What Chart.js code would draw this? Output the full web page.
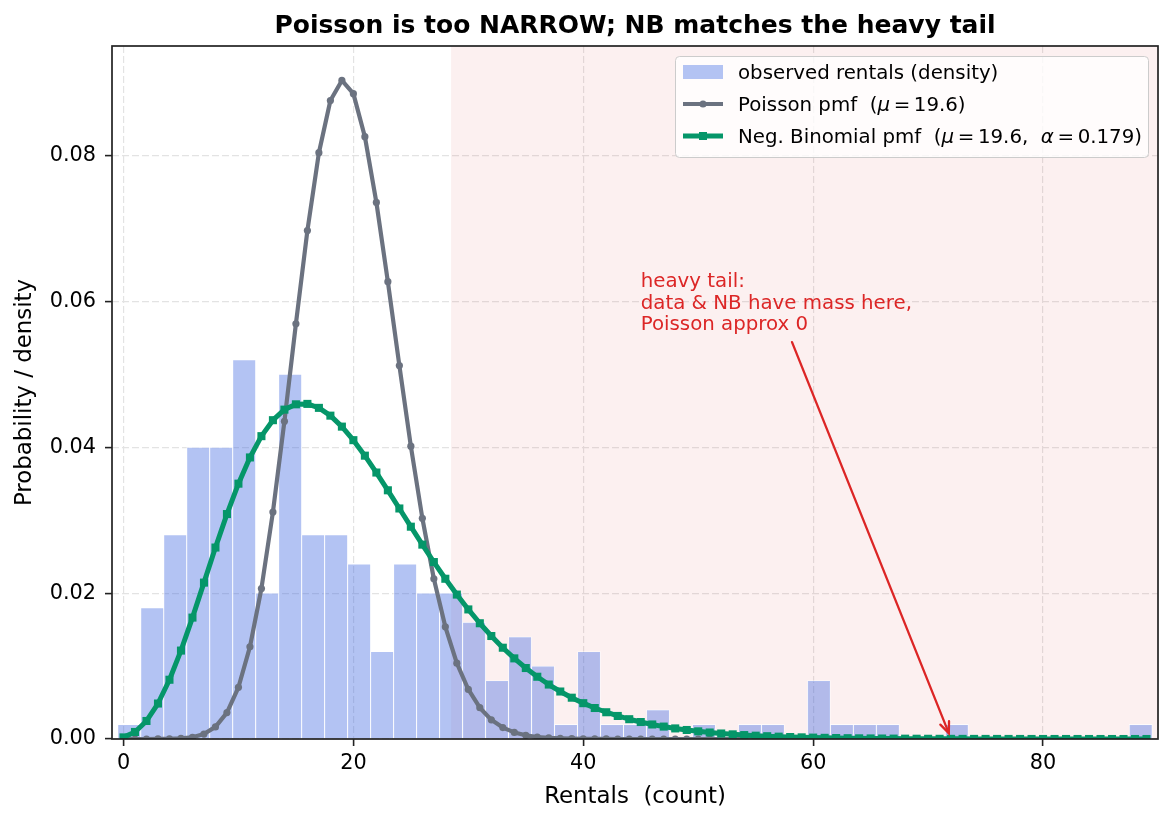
<!DOCTYPE html>
<html><head><meta charset="utf-8">
<script src="https://cdn.jsdelivr.net/npm/chart.js@4.4.1/dist/chart.umd.min.js"></script>
<style>html,body{margin:0;padding:0;background:#fff}#c{display:block}</style>
</head><body>
<canvas id="c" width="1173" height="823"></canvas>
<script>
// ---------------- data ----------------
const binCenters = [0.5,2.5,4.5,6.5,8.5,10.5,12.5,14.5,16.5,18.5,20.5,22.5,24.5,26.5,28.5,30.5,32.5,34.5,36.5,38.5,
  40.5,42.5,44.5,46.5,48.5,50.5,52.5,54.5,56.5,58.5,60.5,62.5,64.5,66.5,68.5,70.5,72.5,74.5,76.5,78.5,80.5,82.5,84.5,86.5,88.5];
const observedDensity = [0.002,0.018,0.028,0.040,0.040,0.052,0.020,0.050,0.028,0.028,0.024,0.012,0.024,0.020,0.020,0.016,0.008,0.014,0.010,0.002,
  0.012,0.002,0.002,0.004,0,0.002,0,0.002,0.002,0,0.008,0.002,0.002,0.002,0,0,0.002,0,0,0,0,0,0,0,0.002];
const counts = [0,1,2,3,4,5,6,7,8,9,10,11,12,13,14,15,16,17,18,19,20,21,22,23,24,25,26,27,28,29,30,31,32,33,34,35,36,37,38,39,
  40,41,42,43,44,45,46,47,48,49,50,51,52,53,54,55,56,57,58,59,60,61,62,63,64,65,66,67,68,69,70,71,72,73,74,75,76,77,78,79,
  80,81,82,83,84,85,86,87,88,89];
const poissonPmf = [0.000000003,0.00000006,0.00000059,0.0000039,0.0000189,0.0000741,0.000242,0.000678,0.001661,0.003617,
  0.00709,0.01263,0.02063,0.03111,0.04355,0.05691,0.06971,0.08037,0.08752,0.09028,
  0.08847,0.08257,0.07356,0.06269,0.0512,0.04014,0.03026,0.02197,0.01538,0.01039,
  0.00679,0.004293,0.002629,0.001562,0.0009,0.000504,0.000275,0.000145,0.000075,0.000038,
  0.0000185,0.0000088,0.0000041,0.0000019,0.0000008,0.0000004,0,0,0,0,
  0,0,0,0,0,0,0,0,0,0,0,0,0,0,0,0,0,0,0,0,0,0,0,0,0,0,0,0,0,0,0,0,0,0,0,0,0,0,0,0];
const nbPmf = [0.000222,0.000964,0.002471,0.004863,0.008124,0.012121,0.016643,0.021438,0.026247,0.030835,
  0.035002,0.038596,0.041515,0.043705,0.045152,0.04588,0.045938,0.045394,0.044327,0.042822,
  0.040966,0.038842,0.036528,0.034094,0.031602,0.029104,0.026644,0.024256,0.021968,0.019799,
  0.017763,0.015868,0.014118,0.012514,0.011052,0.009728,0.008535,0.007465,0.00651,0.005662,
  0.004911,0.004249,0.003668,0.003159,0.002714,0.002328,0.001992,0.001702,0.001451,0.001235,
  0.001049,0.00089,0.000754,0.000637,0.000538,0.000454,0.000382,0.000321,0.00027,0.000226,
  0.00019,0.000159,0.000133,0.000111,0.0000925,0.0000771,0.0000641,0.0000533,0.0000443,0.0000367,
  0.0000305,0.0000252,0.0000209,0.0000173,0.0000143,0.0000118,0.0000097,0.000008,0.0000066,0.0000054,
  0.0000045,0.0000037,0.000003,0.0000025,0.000002,0.0000017,0.0000014,0.0000011,0.0000009,0.0000008];
const seriesLabels = ['observed rentals (density)', 'Poisson pmf  (\u03bc = 19.6)', 'Neg. Binomial pmf  (\u03bc = 19.6,  \u03b1 = 0.179)'];
const titleText = 'Poisson is too NARROW; NB matches the heavy tail';
const xTitle = 'Rentals  (count)';
const yTitle = 'Probability / density';
const annotationLines = ['heavy tail:', 'data & NB have mass here,', 'Poisson approx 0'];

// ---------------- style ----------------
const FONT = "'DejaVu Sans', sans-serif";
const BAR_COLOR = 'rgba(65,105,225,0.40)';
const POIS_COLOR = '#6b7280';
const NB_COLOR = '#059669';
const RED = '#dc2626';
const SHADE = {from: 28.5, to: 90, color: 'rgba(214,39,40,0.07)'};
const ANN = {text: {x: 45, y: 0.056}, from: {x: 58.16, y: 0.0544}, to: {x: 71.8, y: 0.0008}};

const titlePlugin = {
  id: 'axTitle',
  afterDraw(chart) {
    const {ctx, chartArea: a} = chart;
    ctx.save();
    ctx.font = 'bold 25px ' + FONT;
    ctx.fillStyle = '#000';
    ctx.textAlign = 'center';
    ctx.textBaseline = 'middle';
    ctx.fillText(titleText, (a.left + a.right) / 2, 26.2);
    ctx.restore();
  }
};

const shadePlugin = {
  id: 'shade',
  beforeDatasetsDraw(chart) {
    const {ctx, chartArea: a, scales: {x}} = chart;
    const x0 = Math.max(a.left, x.getPixelForValue(SHADE.from));
    const x1 = Math.min(a.right, x.getPixelForValue(SHADE.to));
    ctx.save();
    ctx.fillStyle = SHADE.color;
    ctx.fillRect(x0, a.top, x1 - x0, a.bottom - a.top);
    ctx.restore();
  }
};

const framePlugin = {
  id: 'frame',
  afterDatasetsDraw(chart) {
    const {ctx, chartArea: a} = chart;
    ctx.save();
    ctx.strokeStyle = '#222';
    ctx.lineWidth = 1.7;
    ctx.strokeRect(a.left, a.top, a.right - a.left, a.bottom - a.top);
    ctx.restore();
  }
};

const annotationPlugin = {
  id: 'annot',
  afterDatasetsDraw(chart) {
    const {ctx, scales: {x, y}} = chart;
    const tx = x.getPixelForValue(ANN.text.x), ty = y.getPixelForValue(ANN.text.y);
    ctx.save();
    ctx.font = '19.8px ' + FONT;
    ctx.fillStyle = RED;
    ctx.textAlign = 'left';
    ctx.textBaseline = 'alphabetic';
    const n = annotationLines.length;
    annotationLines.forEach((s, i) => ctx.fillText(s, tx, ty - (n - 1 - i) * 21.7));
    const sx = x.getPixelForValue(ANN.from.x), sy = y.getPixelForValue(ANN.from.y);
    const ex = x.getPixelForValue(ANN.to.x), ey = y.getPixelForValue(ANN.to.y);
    ctx.strokeStyle = RED;
    ctx.lineWidth = 2.3;
    ctx.lineCap = 'round';
    ctx.beginPath(); ctx.moveTo(sx, sy); ctx.lineTo(ex, ey); ctx.stroke();
    const ang = Math.atan2(ey - sy, ex - sx);
    const hl = 12, ha = 0.4;
    ctx.beginPath();
    ctx.moveTo(ex - hl * Math.cos(ang - ha), ey - hl * Math.sin(ang - ha));
    ctx.lineTo(ex, ey);
    ctx.lineTo(ex - hl * Math.cos(ang + ha), ey - hl * Math.sin(ang + ha));
    ctx.stroke();
    ctx.restore();
  }
};

// segments: [text, italic] or a number = extra gap in px
function drawRich(ctx, segs, x, y, size) {
  let cx = x;
  for (const s of segs) {
    if (typeof s === 'number') { cx += s; continue; }
    const [t, it] = s;
    ctx.font = (it ? 'italic ' : '') + size + 'px ' + FONT;
    ctx.fillText(t, cx, y);
    cx += ctx.measureText(t).width;
  }
}

const legendPlugin = {
  id: 'customLegend',
  afterDraw(chart) {
    const ctx = chart.ctx;
    const bx = 675, by = 56, bw = 473, bh = 101, r = 4;
    ctx.save();
    ctx.beginPath();
    ctx.roundRect(bx + 0.5, by + 0.5, bw, bh, r);
    ctx.fillStyle = 'rgba(255,255,255,0.8)';
    ctx.fill();
    ctx.strokeStyle = '#cccccc';
    ctx.lineWidth = 1;
    ctx.stroke();
    const hx0 = 683, hx1 = 723, tx = 738;
    const rows = [72, 104, 136];
    ctx.fillStyle = '#ffffff';
    ctx.fillRect(hx0, rows[0] - 7, hx1 - hx0, 14);
    ctx.fillStyle = BAR_COLOR;
    ctx.fillRect(hx0, rows[0] - 7, hx1 - hx0, 14);
    ctx.strokeStyle = POIS_COLOR; ctx.lineWidth = 4.2;
    ctx.beginPath(); ctx.moveTo(hx0, rows[1]); ctx.lineTo(hx1, rows[1]); ctx.stroke();
    ctx.fillStyle = POIS_COLOR;
    ctx.beginPath(); ctx.arc((hx0 + hx1) / 2, rows[1], 3.6, 0, Math.PI * 2); ctx.fill();
    ctx.strokeStyle = NB_COLOR; ctx.lineWidth = 5;
    ctx.beginPath(); ctx.moveTo(hx0, rows[2]); ctx.lineTo(hx1, rows[2]); ctx.stroke();
    ctx.fillStyle = NB_COLOR;
    ctx.fillRect((hx0 + hx1) / 2 - 4, rows[2] - 4, 8, 8);
    ctx.fillStyle = '#000';
    ctx.textAlign = 'left';
    ctx.textBaseline = 'alphabetic';
    const fs = 19.8, off = 7.2, g = 3.6;
    drawRich(ctx, [[seriesLabels[0], false]], tx, rows[0] + off, fs);
    drawRich(ctx, [['Poisson pmf  (', false], ['\u03bc', true], g, ['=', false], g, ['19.6)', false]], tx, rows[1] + off, fs);
    drawRich(ctx, [['Neg. Binomial pmf  (', false], ['\u03bc', true], g, ['=', false], g, ['19.6,  ', false],
      ['\u03b1', true], g, ['=', false], g, ['0.179)', false]], tx, rows[2] + off, fs);
    ctx.restore();
  }
};

new Chart(document.getElementById('c').getContext('2d'), {
  type: 'bar',
  data: {
    datasets: [
      {
        type: 'bar', label: seriesLabels[0],
        data: binCenters.map((c, i) => ({x: c, y: observedDensity[i]})),
        backgroundColor: BAR_COLOR, borderColor: 'rgba(255,255,255,0.75)', borderWidth: 0.8,
        barPercentage: 1, categoryPercentage: 1, grouped: false, order: 3
      },
      {
        type: 'line', label: seriesLabels[1],
        data: counts.map((k, i) => ({x: k, y: poissonPmf[i]})),
        borderColor: POIS_COLOR, backgroundColor: POIS_COLOR, borderWidth: 4.2,
        pointStyle: 'circle', pointRadius: 3.6, pointBorderWidth: 0, pointBackgroundColor: POIS_COLOR,
        tension: 0, order: 2, clip: 0, borderJoinStyle: 'round'
      },
      {
        type: 'line', label: seriesLabels[2],
        data: counts.map((k, i) => ({x: k, y: nbPmf[i]})),
        borderColor: NB_COLOR, backgroundColor: NB_COLOR, borderWidth: 5,
        pointStyle: 'rect', pointRadius: 5.7, pointBorderWidth: 0, pointBackgroundColor: NB_COLOR,
        tension: 0, order: 1, clip: 0, borderJoinStyle: 'round'
      }
    ]
  },
  options: {
    responsive: false, animation: false, devicePixelRatio: 1,
    layout: {padding: {left: 0, right: 15, top: 46, bottom: 0}},
    plugins: {
      legend: {display: false},
      tooltip: {enabled: false},
      title: {display: false}
    },
    scales: {
      x: {
        type: 'linear', min: -1, max: 90, offset: false,
        grid: {offset: false, color: '#e3e3e3', lineWidth: 1.2, drawTicks: true, tickLength: 7,
          tickColor: '#222', tickWidth: 1.6, tickBorderDash: []},
        border: {display: false, dash: [7, 3]},
        ticks: {stepSize: 20, includeBounds: false, autoSkip: false, maxRotation: 0, color: '#000',
          font: {family: FONT, size: 20.8}, padding: 5, callback: v => String(v)},
        title: {display: true, text: xTitle, color: '#000', font: {family: FONT, size: 22.9},
          padding: {top: 0, bottom: 11.9}},
        afterFit(s) { s.height = 84; }
      },
      y: {
        type: 'linear', min: 0, max: 0.095,
        grid: {color: '#e3e3e3', lineWidth: 1.2, drawTicks: true, tickLength: 7,
          tickColor: '#222', tickWidth: 1.6, tickBorderDash: []},
        border: {display: false, dash: [7, 3]},
        ticks: {stepSize: 0.02, includeBounds: false, color: '#000',
          font: {family: FONT, size: 20.8}, padding: 9, callback: v => v.toFixed(2)},
        title: {display: true, text: yTitle, color: '#000', font: {family: FONT, size: 22.9},
          padding: {top: 11.4, bottom: 0}},
        afterFit(s) { s.width = 112; }
      }
    }
  },
  plugins: [shadePlugin, framePlugin, annotationPlugin, legendPlugin, titlePlugin]
});
</script>
</body></html>
